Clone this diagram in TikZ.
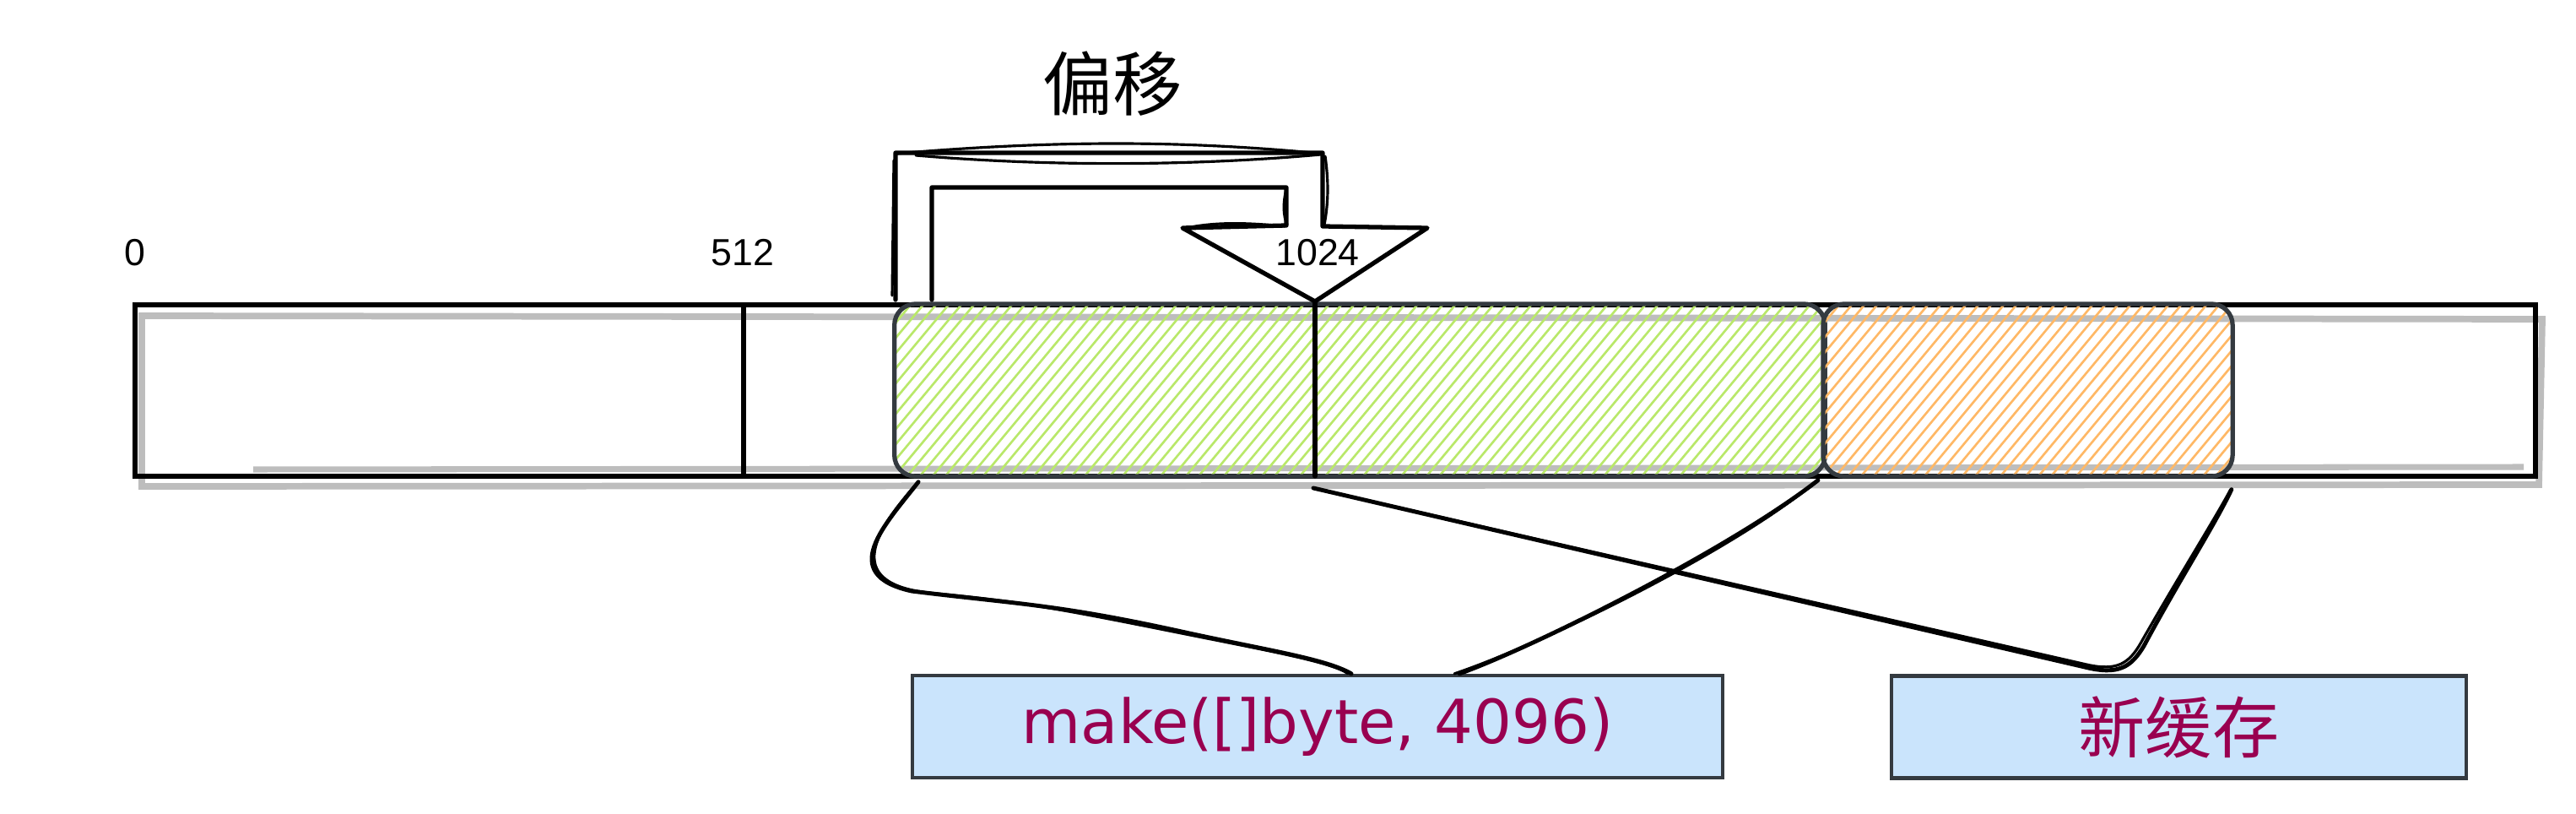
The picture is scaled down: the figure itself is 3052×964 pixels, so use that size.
\documentclass[tikz,border=0pt]{standalone}
\usepackage{fontspec}
\setmainfont{Liberation Sans}
\newfontfamily\cjk{Noto Sans CJK SC}
\newfontfamily\hand{DejaVu Sans}
\definecolor{boxline}{HTML}{343A40}
\definecolor{boxfill}{HTML}{CAE4FC}
\definecolor{txtred}{HTML}{990050}
\definecolor{hgreen}{HTML}{B9E86A}
\definecolor{horange}{HTML}{FFB866}
\definecolor{shadow}{HTML}{BDBDBD}
\tikzset{
  ink/.style={line width=1.5pt, line cap=round, line join=round},
  thin ink/.style={line width=0.9pt, line cap=round, line join=round},
  hatch/.style={path picture={
      \foreach \k in {-16,...,80}{
        \draw[#1, line width=0.75pt]
          ([xshift=\k*1.5mm]path picture bounding box.south west) -- ++(1.75cm,2.1cm);
      }}},
  region/.style={draw=boxline, line width=1.5pt, rounded corners=0.25cm,
      minimum height=2.04cm, inner sep=0pt, hatch=#1},
  numlabel/.style={inner sep=0pt, font=\fontsize{12.7}{15}\selectfont},
  infobox/.style={draw=boxline, fill=boxfill, line width=1.2pt,
      minimum height=1.21cm, inner sep=0pt, text=txtred},
  conn/.style={line width=1.4pt, line cap=round, line join=round}
}
\begin{document}
\begin{tikzpicture}[x=0.01cm,y=-0.01cm]
\useasboundingbox (0,0) rectangle (3052,964);

% shadow of the bar
\draw[shadow, line width=2.2pt] (168,374) -- (3012,378) -- (3008,574) -- (168,576) -- cycle;
\draw[shadow, line width=2pt] (300,556) -- (2990,553);
% main bar
\node[draw, line width=1.6pt, minimum width=28.42cm, minimum height=2.03cm, inner sep=0pt] (bar) at (1582,462.5) {};

% 512 mark
\draw[ink] (881,361) -- (881,564);

% hatched regions
\node[region=hgreen, minimum width=11.02cm] (green) at (1611,462) {};
\node[region=horange, minimum width=4.85cm] (orange) at (2402.5,462) {};

% 1024 mark
\coordinate (m1024t) at (1558,357);
\coordinate (m1024b) at (1556,578);
\draw[ink] (m1024t) -- (1558,564);

% labels
\node[numlabel] (l0) at (160,299) {0};
\node[numlabel] (l512) at (880,299) {512};
\node[numlabel] (l1024) at (1561,299) {1024};
\node[inner sep=0pt, font=\cjk\fontsize{23.5}{28}\selectfont] (offset) at (1318,99) {偏移};

% bent arrow
\draw[ink] (1061,355) -- (1061,181) -- (1567,181) -- (1567,268) -- (1691,270)
  -- (m1024t) -- (1401,270) -- (1524,267) -- (1524,222) -- (1104,222) -- (1104,355);
\draw[thin ink] (1061,182) .. controls (1250,166) and (1400,166) .. (1567,182);
\draw[thin ink] (1085,184) .. controls (1250,198) and (1420,196) .. (1565,183);
\draw[thin ink] (1057,350) -- (1059,190);
\draw[thin ink] (1570,185) .. controls (1575,220) and (1573,245) .. (1569,266);
\draw[thin ink] (1401,271) .. controls (1440,262) and (1480,264) .. (1522,268);
\draw[thin ink] (1524,224) .. controls (1520,240) and (1520,255) .. (1525,266);

% boxes
\node[infobox, minimum width=9.6cm, font=\hand\fontsize{20.5}{24}\selectfont] (makebox) at (1561,860.5) {make([]byte, 4096)};
\node[infobox, minimum width=6.81cm, font=\cjk\fontsize{22.5}{27}\selectfont] (newbox) at (2581.5,861) {新缓存};

% connectors
\draw[conn] ([xshift=0.31cm,yshift=-0.04cm]green.south west)
  .. controls (1050,620) and (990,680) .. (1080,700)
  .. controls (1200,715) and (1250,715) .. (1400,748)
  .. controls (1500,770) and (1570,780) .. ([xshift=0.4cm]makebox.north);
\draw[thin ink] ([xshift=0.29cm,yshift=-0.06cm]green.south west)
  .. controls (1040,625) and (995,690) .. (1100,702)
  .. controls (1210,712) and (1260,722) .. (1410,752)
  .. controls (1510,772) and (1580,785) .. ([xshift=0.36cm]makebox.north);

\draw[conn] ([xshift=-0.11cm,yshift=-0.02cm]green.south east)
  .. controls (2050,650) and (1820,765) .. ([xshift=1.68cm]makebox.north);
\draw[thin ink] ([xshift=-0.13cm,yshift=-0.03cm]green.south east)
  .. controls (2060,648) and (1835,760) .. ([xshift=1.62cm]makebox.north);

\draw[conn] (m1024b) -- (2470,790) .. controls (2510,800) and (2525,790) .. (2540,765)
  .. controls (2580,690) and (2625,620) .. ([xshift=-0.04cm,yshift=-0.13cm]orange.south east);
\draw[thin ink] (m1024b) -- (2472,787) .. controls (2508,795) and (2522,786) .. (2536,762)
  .. controls (2578,688) and (2622,618) .. ([xshift=-0.05cm,yshift=-0.13cm]orange.south east);
\end{tikzpicture}
\end{document}
